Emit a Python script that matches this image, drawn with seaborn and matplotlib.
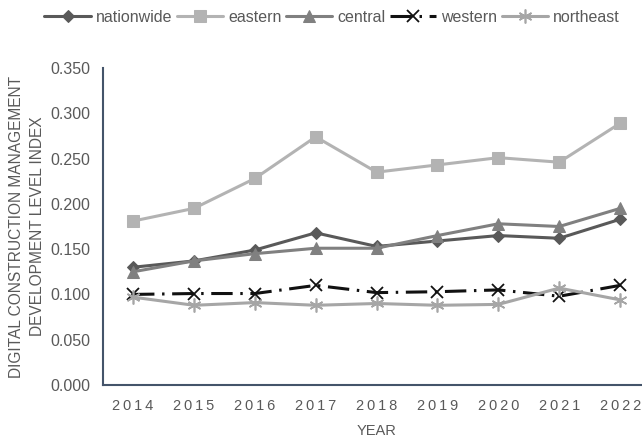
#!/usr/bin/env python3
import numpy as np
import pandas as pd
import matplotlib
matplotlib.use('Agg')
import matplotlib.pyplot as plt
import seaborn as sns

# Data
years = [2014, 2015, 2016, 2017, 2018, 2019, 2020, 2021, 2022]
nationwide = [0.130, 0.137, 0.149, 0.168, 0.153, 0.159, 0.165, 0.162, 0.183]
eastern = [0.181, 0.195, 0.228, 0.274, 0.235, 0.243, 0.251, 0.246, 0.289]
central = [0.125, 0.137, 0.145, 0.151, 0.151, 0.165, 0.178, 0.175, 0.195]
western = [0.100, 0.101, 0.101, 0.110, 0.102, 0.103, 0.105, 0.098, 0.110]
northeast = [0.097, 0.088, 0.091, 0.088, 0.090, 0.088, 0.089, 0.107, 0.094]
yticks = [0.0, 0.05, 0.10, 0.15, 0.20, 0.25, 0.30, 0.35]

sns.set_theme(style='white')
plt.rcParams['font.family'] = ['Liberation Sans', 'DejaVu Sans']
text_color = '#595959'
spine_color = '#44546a'

fig = plt.figure(figsize=(6.42, 4.40), dpi=100)
ax = fig.add_axes([102.6 / 642, 55 / 440, 548 / 642, 317 / 440])

pos = list(range(len(years)))
series = [
    ('nationwide', nationwide, dict(color='#595959', marker='D', markersize=6, linestyle='-')),
    ('eastern', eastern, dict(color='#b3b3b3', marker='s', markersize=9, linestyle='-')),
    ('central', central, dict(color='#808080', marker='^', markersize=9, linestyle='-')),
    ('western', western, dict(color='#111111', marker='x', markersize=9, markeredgewidth=1.3,
                               linestyle=(0, (7, 2.5, 0.8, 2.5)))),
    ('northeast', northeast, dict(color='#a6a6a6', marker=(6, 2, 0), markersize=10,
                                   markeredgewidth=1.2, linestyle='-')),
]

for name, vals, kw in series:
    df = pd.DataFrame({'pos': pos, 'value': vals})
    sns.lineplot(data=df, x='pos', y='value', ax=ax, label=name, linewidth=2.2,
                 markeredgecolor=kw['color'], markerfacecolor=kw['color'], **kw)

ax.set_xlim(-0.5, len(years) - 0.5)
ax.set_ylim(0, 0.35)
ax.set_yticks(yticks)
ax.set_yticklabels([f'{v:.3f}' for v in yticks])
ax.set_xticks(pos)
ax.set_xticklabels(['\u2009'.join(list(str(y))) for y in years])
ax.set_xticks(np.arange(0.5, len(years) - 0.5, 1), minor=True)
ax.tick_params(axis='x', which='major', length=0, pad=10, labelsize=10.5, colors=text_color)
ax.tick_params(axis='x', which='minor', direction='in', length=5, width=1.2, color=spine_color)
ax.tick_params(axis='y', direction='in', length=5, width=1.2, color=spine_color,
               labelsize=11.5, labelcolor=text_color, pad=9)

for side in ['top', 'right']:
    ax.spines[side].set_visible(False)
for side in ['left', 'bottom']:
    ax.spines[side].set_color(spine_color)
    ax.spines[side].set_linewidth(1.5)

ax.set_xlabel('YEAR', color=text_color, fontsize=10.5, labelpad=8)
ax.set_ylabel('DIGITAL CONSTRUCTION MANAGEMENT\nDEVELOPMENT LEVEL INDEX',
              color=text_color, fontsize=11.2, labelpad=4, linespacing=1.5)

handles, labels = ax.get_legend_handles_labels()
ax.get_legend().remove()
fig.legend(handles, labels, loc='upper left', bbox_to_anchor=(38 / 642, 0.992), ncol=5,
           frameon=False, fontsize=11.5, labelcolor=text_color, handlelength=2.9,
           handletextpad=0.3, columnspacing=0.3, borderaxespad=0)

fig.savefig('out.png', dpi=100)
